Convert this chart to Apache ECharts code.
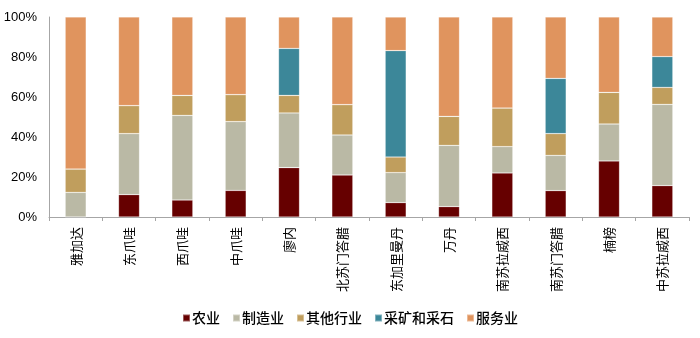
<!DOCTYPE html>
<html>
<head>
<meta charset="utf-8">
<script src="https://cdn.jsdelivr.net/npm/echarts@6/dist/echarts.min.js"></script>
<style>
html,body{margin:0;padding:0;background:#fff;}
#chart{width:700px;height:338px;}
</style>
</head>
<body>
<div id="chart"></div>
<script>
// 各省份GDP产业构成（%）
const regions = ['雅加达','东爪哇','西爪哇','中爪哇','廖内','北苏门答腊','东加里曼丹','万丹','南苏拉威西','南苏门答腊','楠榜','中苏拉威西'];
const agriculture   = [0,   11.2, 8.5,  13.3, 24.7, 21.0, 7.2,  5.2,  22.0, 13.2, 28.0, 15.7];
const manufacturing = [12.3,30.5, 42.3, 34.4, 27.3, 20.0, 15.0, 30.6, 13.2, 17.6, 18.5, 40.6];
const otherIndustry = [11.7,14.0, 10.0, 13.5, 8.8,  15.2, 7.8,  14.5, 19.3, 10.9, 15.8, 8.5];
const mining        = [0,   0,    0,    0,    23.5, 0,    53.2, 0,    0,    27.6, 0,    15.4];
const services      = [76.0,44.3, 39.2, 38.8, 15.7, 43.8, 16.8, 49.7, 45.5, 30.7, 37.7, 19.8];
const yTicks = [0, 20, 40, 60, 80, 100];

const seriesDefs = [
  {name:'农业', data: agriculture, color:'#660000'},
  {name:'制造业', data: manufacturing, color:'#BAB9A5'},
  {name:'其他行业', data: otherIndustry, color:'#C09E5D'},
  {name:'采矿和采石', data: mining, color:'#3C8799'},
  {name:'服务业', data: services, color:'#E0945E'}
];

const chart = echarts.init(document.getElementById('chart'));
chart.setOption({
  animation: false,
  legend: {
    top: 306,
    left: 'center',
    itemWidth: 7,
    itemHeight: 7,
    itemGap: 12,
    icon: 'rect',
    textStyle: {fontFamily: 'Noto Sans CJK SC', fontSize: 14, fontWeight: 500, color: '#000', padding: [0,0,0,-3]},
    data: seriesDefs.map(s => s.name)
  },
  grid: {left: 49, right: 11, top: 17, bottom: 121, containLabel: false},
  xAxis: {
    type: 'category',
    data: regions,
    axisLine: {lineStyle: {color: '#A6A6A6'}},
    axisTick: {show: true, length: 4, alignWithLabel: false, lineStyle: {color: '#A6A6A6'}},
    axisLabel: {
      rotate: 90,
      interval: 0,
      margin: 10,
      fontFamily: 'Noto Sans CJK SC',
      fontSize: 13,
      color: '#000'
    }
  },
  yAxis: {
    type: 'value',
    min: yTicks[0],
    max: yTicks[yTicks.length - 1],
    interval: 20,
    axisLine: {show: true, lineStyle: {color: '#A6A6A6'}},
    axisTick: {show: false},
    splitLine: {show: false},
    axisLabel: {
      formatter: v => v + '%',
      fontFamily: 'Liberation Sans',
      fontSize: 13,
      color: '#000',
      margin: 12
    }
  },
  series: seriesDefs.map(s => ({
    name: s.name,
    type: 'bar',
    stack: 'total',
    barWidth: 21,
    data: s.data,
    itemStyle: {color: s.color, borderColor: 'rgba(255,255,255,0.35)', borderWidth: 0.6}
  }))
});
</script>
</body>
</html>
